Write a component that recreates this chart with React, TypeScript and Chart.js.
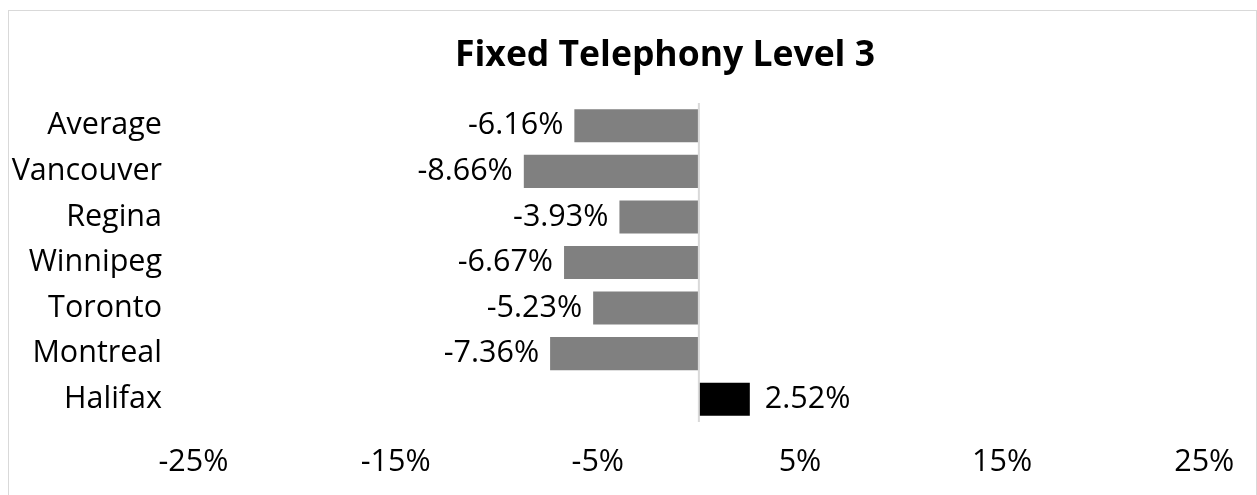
import React, { useEffect, useRef } from 'react';
import { Chart, registerables } from 'chart.js';

Chart.register(...registerables);

const titleText = 'Fixed Telephony Level 3';
const categories = ['Average', 'Vancouver', 'Regina', 'Winnipeg', 'Toronto', 'Montreal', 'Halifax'];
const changes = [-6.16, -8.66, -3.93, -6.67, -5.23, -7.36, 2.52];
const barColors = ['#808080', '#808080', '#808080', '#808080', '#808080', '#808080', '#000000'];
const xTickValues = [-25, -15, -5, 5, 15, 25];

const FONT = "'Open Sans', 'Noto Sans', sans-serif";
const LABEL_SIZE = 30.5;
const TITLE_SIZE = 35.5;
const TITLE_CENTER_Y = 45;
const TITLE_OFFSET_X = 32.5;

const titlePlugin = {
  id: 'customTitle',
  afterDraw(chart: any) {
    const { ctx, width } = chart;
    ctx.save();
    ctx.font = `bold ${TITLE_SIZE}px ${FONT}`;
    ctx.fillStyle = '#000000';
    ctx.textAlign = 'center';
    ctx.textBaseline = 'middle';
    ctx.fillText(titleText, width / 2 + TITLE_OFFSET_X, TITLE_CENTER_Y);
    ctx.restore();
  },
};

const zeroLinePlugin = {
  id: 'zeroLine',
  afterDatasetsDraw(chart: any) {
    const { ctx, chartArea, scales } = chart;
    const x = scales.x.getPixelForValue(0);
    ctx.save();
    ctx.strokeStyle = '#d9d9d9';
    ctx.lineWidth = 2;
    ctx.beginPath();
    ctx.moveTo(x, chartArea.top);
    ctx.lineTo(x, chartArea.bottom);
    ctx.stroke();
    ctx.restore();
  },
};

const valueLabelPlugin = {
  id: 'valueLabels',
  afterDatasetsDraw(chart: any) {
    const { ctx } = chart;
    const meta = chart.getDatasetMeta(0);
    ctx.save();
    ctx.font = `${LABEL_SIZE}px ${FONT}`;
    ctx.fillStyle = '#000000';
    ctx.textBaseline = 'middle';
    meta.data.forEach((bar: any, i: number) => {
      const v = changes[i];
      const text = v.toFixed(2) + '%';
      if (v < 0) {
        ctx.textAlign = 'right';
        ctx.fillText(text, bar.x - 11, bar.y);
      } else {
        ctx.textAlign = 'left';
        ctx.fillText(text, bar.x + 15, bar.y);
      }
    });
    ctx.restore();
  },
};

export default function App() {
  const canvasRef = useRef<HTMLCanvasElement | null>(null);

  useEffect(() => {
    if (!canvasRef.current) return;
    const chart = new Chart(canvasRef.current, {
      type: 'bar',
      data: {
        labels: categories,
        datasets: [
          {
            data: changes,
            backgroundColor: barColors,
            borderWidth: 0,
            categoryPercentage: 1,
            barPercentage: 0.725,
          },
        ],
      },
      options: {
        indexAxis: 'y',
        animation: false,
        responsive: false,
        layout: { padding: { left: 0, right: 43, top: 92, bottom: 0 } },
        plugins: {
          legend: { display: false },
          tooltip: { enabled: false },
          title: { display: false },
        },
        scales: {
          x: {
            type: 'linear',
            min: -25,
            max: 25,
            afterBuildTicks: (scale: any) => {
              scale.ticks = xTickValues.map((v) => ({ value: v }));
            },
            afterFit: (scale: any) => {
              scale.height = 77;
            },
            grid: { display: false, drawTicks: false },
            border: { display: false },
            ticks: {
              color: '#000000',
              font: { family: FONT, size: LABEL_SIZE },
              padding: 21.7,
              maxRotation: 0,
              autoSkip: false,
              callback: (v: any) => `${v}%`,
            },
          },
          y: {
            type: 'category',
            afterFit: (scale: any) => {
              scale.width = 184.5;
            },
            grid: { display: false, drawTicks: false },
            border: { display: false },
            ticks: {
              color: '#000000',
              font: { family: FONT, size: LABEL_SIZE },
              padding: 31.5,
            },
          },
        },
      },
      plugins: [zeroLinePlugin, valueLabelPlugin, titlePlugin],
    });
    return () => chart.destroy();
  }, []);

  return (
    <div
      style={{
        position: 'fixed',
        left: 8,
        top: 10,
        width: 1249,
        height: 490,
        border: '1px solid #d9d9d9',
        boxSizing: 'border-box',
        background: '#ffffff',
      }}
    >
      <canvas ref={canvasRef} width={1247} height={488} style={{ display: 'block' }} />
    </div>
  );
}
